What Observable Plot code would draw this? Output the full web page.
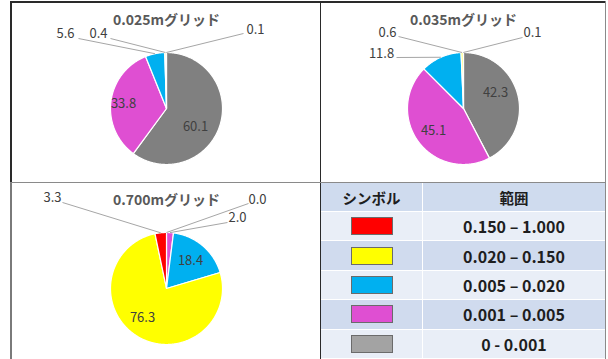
<!DOCTYPE html>
<html><head><meta charset="utf-8">
<script src="https://cdn.jsdelivr.net/npm/d3@7"></script>
<script src="https://cdn.jsdelivr.net/npm/@observablehq/plot@0.6"></script>
<style>
html,body{margin:0;padding:0;background:#fff;}
#wrap{position:relative;width:608px;height:359px;overflow:hidden;font-family:"Noto Sans CJK JP",sans-serif;}
.panel{position:absolute;}
.ln{position:absolute;}
#legend{position:absolute;left:321px;top:183px;width:284px;height:176px;display:grid;grid-template-columns:102px 182px;grid-template-rows:29px repeat(5,29.4px);font-family:"Noto Sans CJK JP",sans-serif;font-weight:700;color:#1e1e1e;}
#legend div{display:flex;align-items:center;justify-content:center;box-sizing:border-box;border-bottom:1px solid #fff;}
#legend .c1{border-right:1px solid #fff;}
.sw{width:42px;height:18px;box-sizing:border-box;border:1.5px solid #6b6b6b;}
</style>
</head><body>
<div id="wrap"></div>
<script>
// ---- data ----
const categories = ["0 - 0.001", "0.001 – 0.005", "0.005 – 0.020", "0.020 – 0.150", "0.150 – 1.000"];
const colors = ["#808080", "#df4fd2", "#00b0f0", "#ffff00", "#ff0000"];
const swatchColors = ["#a3a3a3", "#df4fd2", "#00b0f0", "#ffff00", "#ff0000"];
const titles = ["0.025mグリッド", "0.035mグリッド", "0.700mグリッド"];
const grid025 = [60.1, 33.8, 5.6, 0.4, 0.1];
const grid035 = [42.3, 45.1, 11.8, 0.6, 0.1];
const grid700 = [0.0, 2.0, 18.4, 76.3, 3.3];
const legendHeader = ["シンボル", "範囲"];
const legendOrder = [4, 3, 2, 1, 0];

// ---- layout (pixels) ----
const R = 56;
const panels = [
  {values: grid025, title: titles[0], left: 10, top: 2, W: 310, H: 180, cx: 156, cy: 106,
   labels: [ // [category index, label dx, dy, leader start dx, dy]  (null leader = inside)
     [0, 29, 18, null], [1, -43, -5, null],
     [2, -101, -75, [-88, -70]], [3, -68, -75, [-56, -70]], [4, 89, -79, [77, -75]]]},
  {values: grid035, title: titles[1], left: 320, top: 2, W: 285, H: 180, cx: 143, cy: 106,
   labels: [
     [0, 32, -16, null], [1, -30, 22, null],
     [2, -82, -55, [-67, -51]], [3, -76, -76, [-65, -72]], [4, 69, -76, [59, -71]]]},
  {values: grid700, title: titles[2], left: 10, top: 182, W: 310, H: 177, cx: 156, cy: 106,
   labels: [
     [2, 24, -28, null], [3, -24, 29, null],
     [4, -114, -91, [-104, -86]], [0, 91, -89, [82, -85]], [1, 71, -71, [61, -66]]]}
];

const wrap = document.getElementById("wrap");

function line(l, t, w, h, c) {
  const d = document.createElement("div");
  d.className = "ln";
  Object.assign(d.style, {left: l + "px", top: t + "px", width: w + "px", height: h + "px", background: c});
  wrap.appendChild(d);
}

for (const p of panels) {
  const u = v => v / R; // px -> radius units
  const arcs = d3.pie().sort(null).value(d => d.v)(p.values.map((v, i) => ({v, i})));
  const poly = [];
  for (const a of arcs) {
    if (a.endAngle - a.startAngle <= 0) continue;
    const key = a.data.i;
    poly.push({key, x: 0, y: 0});
    const n = Math.max(2, Math.ceil((a.endAngle - a.startAngle) / 0.01));
    for (let k = 0; k <= n; k++) {
      const t = a.startAngle + (a.endAngle - a.startAngle) * k / n;
      poly.push({key, x: Math.sin(t), y: Math.cos(t)});
    }
    poly.push({key, x: 0, y: 0});
  }
  const inside = [], outside = [], leaders = [];
  for (const [ci, dx, dy, ls] of p.labels) {
    const a = arcs[ci];
    const lab = {text: p.values[ci].toFixed(1), x: u(dx), y: -u(dy)};
    if (!ls) { inside.push(lab); continue; }
    outside.push(lab);
    const m = (a.startAngle + a.endAngle) / 2;
    leaders.push({x1: u(ls[0]), y1: -u(ls[1]), x2: Math.sin(m), y2: Math.cos(m)});
  }
  const chart = Plot.plot({
    width: p.W, height: p.H,
    margin: 0,
    x: {domain: [-p.cx / R, (p.W - p.cx) / R], axis: null},
    y: {domain: [-(p.H - p.cy) / R, p.cy / R], axis: null},
    color: {domain: d3.range(categories.length), range: colors},
    style: {background: "transparent", overflow: "visible"},
    marks: [
      Plot.line(poly, {x: "x", y: "y", z: "key", fill: "key", stroke: "#ffffff", strokeWidth: 1.2, strokeLinejoin: "round", curve: "linear"}),
      Plot.link(leaders, {x1: "x1", y1: "y1", x2: "x2", y2: "y2", stroke: "#a6a6a6", strokeWidth: 1}),
      Plot.text(inside, {x: "x", y: "y", text: "text", fill: "#404040", fontSize: 13, fontFamily: "Noto Sans CJK JP"}),
      Plot.text(outside, {x: "x", y: "y", text: "text", fill: "#404040", fontSize: 13, fontFamily: "Noto Sans CJK JP"}),
      Plot.text([p.title], {x: () => 0, y: () => u(88), text: d => d, fill: "#595959", fontSize: 14, fontWeight: 700, fontFamily: "Noto Sans CJK JP"})
    ]
  });
  chart.classList.add("panel");
  chart.style.left = p.left + "px";
  chart.style.top = p.top + "px";
  wrap.appendChild(chart);
}

// legend table
const lg = document.createElement("div");
lg.id = "legend";
const hdrBg = "#cfdbee", light = "#e9eef7", dark = "#d0dbee";
legendHeader.forEach((h, j) => {
  const c = document.createElement("div");
  c.className = j === 0 ? "c1" : "c2";
  c.textContent = h;
  c.style.background = hdrBg;
  c.style.fontSize = "14.5px";
  lg.appendChild(c);
});
legendOrder.forEach((ci, r) => {
  const bg = r % 2 === 0 ? light : dark;
  const c1 = document.createElement("div");
  c1.className = "c1"; c1.style.background = bg;
  const sw = document.createElement("span");
  sw.className = "sw"; sw.style.background = swatchColors[ci];
  c1.appendChild(sw);
  const c2 = document.createElement("div");
  c2.className = "c2"; c2.style.background = bg;
  c2.style.fontSize = "16px";
  c2.textContent = categories[ci];
  lg.appendChild(c1); lg.appendChild(c2);
});
wrap.appendChild(lg);

// panel borders
line(10, 1, 596, 1.5, "#2a2a2a");
line(10, 1, 1.5, 181, "#2a2a2a");
line(10, 182, 1.5, 177, "#7a7a7a");
line(319.5, 1, 1.5, 358, "#2a2a2a");
line(10, 181.5, 596, 1.5, "#8a8a8a");
line(604.5, 1, 1.5, 358, "#8a8a8a");
</script>
</body></html>
